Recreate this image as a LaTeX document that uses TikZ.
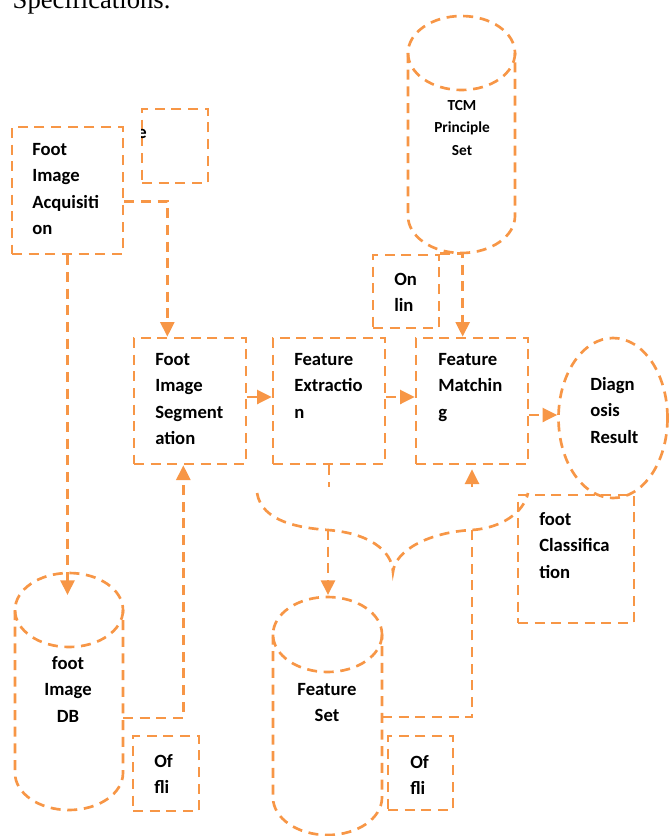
\documentclass[tikz,border=0pt]{standalone}
\usepackage{fontspec}
\setmainfont{Carlito}
\newfontfamily\specfont{Liberation Serif}
\usetikzlibrary{arrows.meta,shapes.geometric}
\definecolor{dashorange}{RGB}{247,150,70}

\begin{document}
\begin{tikzpicture}[x=0.75pt,y=-0.75pt,
    dsh/.style={draw=dashorange,line width=2pt,dash pattern=on 7.5pt off 5pt},
    arr/.style={dsh,-{Triangle[length=11pt,width=10.5pt]}},
    boxwh/.style 2 args={dsh,rectangle,inner sep=0pt,minimum width=#1,minimum height=#2},
    lbl/.style={anchor=north west,align=left,inner sep=0pt,font=\fontsize{14pt}{19.8pt}\selectfont\bfseries},
    cyllbl/.style={anchor=north,align=center,inner sep=0pt,font=\fontsize{14pt}{19.8pt}\selectfont\bfseries}]
      \useasboundingbox (0,0) rectangle (670,836);
      \clip (0,0) rectangle (670,836);
      \node[anchor=base west,font=\specfont\fontsize{20pt}{24pt}\selectfont] (spec) at (8,8) {Specifications.};

      % boxes
      \node[boxwh={83.25pt}{95.25pt}] (acq) at (67.5,190.5) {};
      \node[boxwh={49.5pt}{55.5pt}] (aux) at (175,146) {};
      \node[boxwh={84pt}{94.5pt}] (seg) at (190,401) {};
      \node[boxwh={84pt}{94.5pt}] (ext) at (329,401) {};
      \node[boxwh={84pt}{94.5pt}] (mat) at (472,401) {};
      \node[boxwh={49.5pt}{54.75pt}] (onl) at (406,291.5) {};
      \node[boxwh={87pt}{96pt}] (cls) at (576,559) {};
      \node[boxwh={49.5pt}{56.25pt}] (ofa) at (166,773.5) {};
      \node[boxwh={48.75pt}{55.5pt}] (ofb) at (420.5,773) {};
      \node[dsh,ellipse,inner sep=0pt,minimum width=81.75pt,minimum height=120pt] (diag) at (613,418) {};

      % cylinders
      \draw[dsh] (408,53) -- (408,216) arc[start angle=180,end angle=0,x radius=53.5,y radius=37] -- (515,53);
      \draw[dsh] (461.5,53) ellipse[x radius=53.5,y radius=37];
      \draw[dsh] (15,610) -- (15,773) arc[start angle=180,end angle=0,x radius=54,y radius=37] -- (123,610);
      \draw[dsh] (69,610) ellipse[x radius=54,y radius=37];
      \draw[dsh] (273,634.5) -- (273,797.5) arc[start angle=180,end angle=0,x radius=54.5,y radius=37.5] -- (382,634.5);
      \draw[dsh] (327.5,634.5) ellipse[x radius=54.5,y radius=37.5];

      % texts
      \node[lbl] (acqtxt) at (32,143) {Foot\\Image\\Acquisiti\\on};
      \begin{scope}
        \clip (141,120) rectangle (160,145);
        \node[lbl] (auxtxt) at (137,129) {e};
      \end{scope}
      \node[lbl] (segtxt) at (155,353) {Foot\\Image\\Segment\\ation};
      \node[lbl] (exttxt) at (294,353) {Feature\\Extractio\\n};
      \node[lbl] (mattxt) at (438,353) {Feature\\Matchin\\g};
      \node[lbl] (onltxt) at (394,273) {On\\lin};
      \node[lbl] (diagtxt) at (590,377) {Diagn\\osis\\Result};
      \node[lbl] (clstxt) at (539,512) {foot\\Classifica\\tion};
      \node[lbl] (ofatxt) at (154,754) {Of\\fli};
      \node[lbl] (ofbtxt) at (410,755) {Of\\fli};
      \node[cyllbl,font=\fontsize{11.5pt}{17pt}\selectfont\bfseries] (tcmtxt) at (462,100) {TCM\\Principle\\Set};
      \node[cyllbl] (dbtxt) at (68,656) {foot\\Image\\DB};
      \node[cyllbl] (fsettxt) at (327,683) {Feature\\Set};

      % free ends
      \coordinate (dbin) at (69,595);
      \coordinate (dbout) at (123,718);
      \coordinate (fsin) at (328,595);
      \coordinate (fsout) at (382,717);
      \coordinate (gapa) at (328,487);
      \coordinate (gapb) at (328,530);
      \coordinate (gapc) at (472,530);
      \coordinate (gapd) at (472,487);

      % connectors
      \draw[arr] ([yshift=-8pt]acq.east) -| ([xshift=-17pt]seg.north);
      \draw[arr] (acq.south) -- (acq.south |- dbin);
      \draw[arr] (dbout) -| ([xshift=-5pt]seg.south);
      \draw[arr] ([yshift=3pt]seg.east) -- ([yshift=3pt]ext.west);
      \draw[arr] ([yshift=3pt]ext.east) -- ([yshift=3pt]mat.west);
      \draw[arr] (onl.north east) -| ([xshift=-7pt]mat.north);
      \coordinate (m1) at ([yshift=-10.5pt]mat.east);
      \draw[arr] (m1) -- (m1 -| diag.west);
      \draw[dsh] (ext.south) -- (ext.south |- gapa);
      \draw[arr] (gapb) -- (fsin);
      \draw[dsh] (fsout) -| (gapc);
      \draw[arr] (gapd) -- ([yshift=-3pt]mat.south);

      % brace
      \draw[dsh] (257,493) .. controls (262,522) and (300,528) .. (328,530)
        .. controls (368,533) and (392,550) .. (393,572)
        .. controls (395,550) and (430,532) .. (472,530)
        .. controls (502,528) and (524,512) .. (528,493);
\end{tikzpicture}
\end{document}
